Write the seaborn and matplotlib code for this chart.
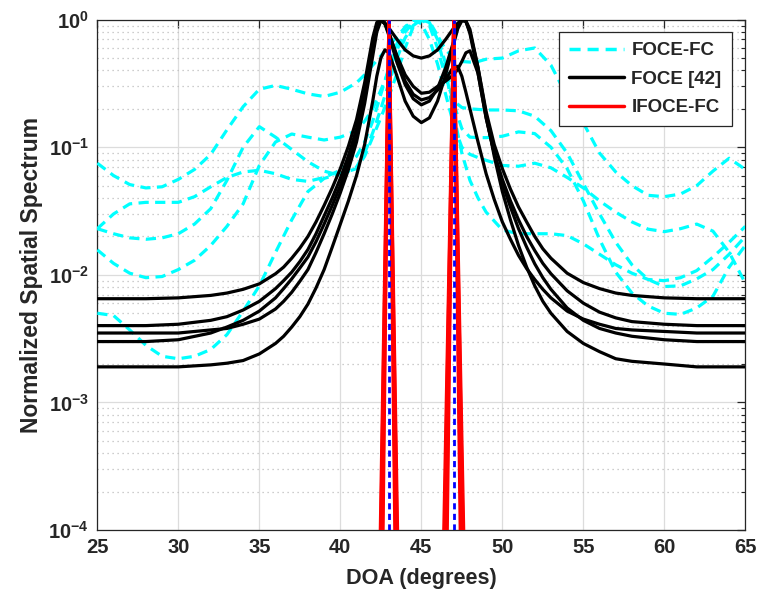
import matplotlib
matplotlib.use("Agg")
import matplotlib.pyplot as plt
import seaborn as sns
from matplotlib.lines import Line2D
from matplotlib.ticker import LogLocator, NullFormatter, FixedLocator

# ---------------- data ----------------
# FOCE-FC (cyan dashed) grid
doa_fc = [25, 26, 27, 28, 29, 30, 31, 32, 33, 34, 35, 36, 37, 38, 39, 40, 41,
          41.5, 42, 42.5, 43, 43.5, 44, 44.5, 45, 45.5, 46, 46.5, 47, 47.5, 48, 48.5, 49,
          50, 51, 52, 53, 54, 55, 56, 57, 58, 59, 60, 61, 62, 63, 64, 65]

foce_fc_1 = [0.075, 0.060, 0.051, 0.048, 0.049, 0.056, 0.067, 0.088, 0.137, 0.208, 0.285, 0.305, 0.285, 0.262, 0.25, 0.27, 0.32,
             0.37, 0.44, 0.52, 0.62, 0.74, 0.87, 0.97, 1.0, 0.92, 0.75, 0.58, 0.5, 0.47, 0.465, 0.47, 0.49,
             0.5, 0.57, 0.6, 0.44, 0.25, 0.155, 0.09, 0.064, 0.05, 0.042, 0.041, 0.043, 0.05, 0.065, 0.082, 0.067]
foce_fc_2 = [0.023, 0.030, 0.036, 0.037, 0.037, 0.037, 0.041, 0.049, 0.058, 0.064, 0.066, 0.062, 0.056, 0.054, 0.058, 0.066, 0.085,
             0.11, 0.16, 0.26, 0.42, 0.65, 0.88, 1.0, 0.93, 0.7, 0.45, 0.26, 0.15, 0.1, 0.088, 0.083, 0.079,
             0.072, 0.071, 0.075, 0.069, 0.058, 0.048, 0.038, 0.031, 0.026, 0.0228, 0.0218, 0.023, 0.025, 0.022, 0.015, 0.0086]
foce_fc_3 = [0.023, 0.021, 0.0195, 0.019, 0.0195, 0.021, 0.025, 0.033, 0.055, 0.1, 0.145, 0.12, 0.096, 0.077, 0.065, 0.06, 0.07,
             0.09, 0.13, 0.2, 0.32, 0.5, 0.72, 0.9, 1.0, 0.95, 0.7, 0.4, 0.18, 0.09, 0.055, 0.04, 0.031,
             0.0225, 0.021, 0.021, 0.021, 0.0203, 0.0175, 0.0145, 0.012, 0.0103, 0.0092, 0.009, 0.0095, 0.0108, 0.0138, 0.018, 0.024]
foce_fc_4 = [0.0157, 0.0123, 0.0103, 0.0095, 0.0097, 0.011, 0.013, 0.017, 0.024, 0.036, 0.072, 0.11, 0.127, 0.12, 0.114, 0.12, 0.135,
             0.16, 0.2, 0.28, 0.4, 0.58, 0.8, 0.95, 1.0, 0.9, 0.6, 0.35, 0.23, 0.205, 0.2, 0.198, 0.196,
             0.196, 0.193, 0.175, 0.135, 0.09, 0.052, 0.03, 0.018, 0.012, 0.0092, 0.0081, 0.0082, 0.0093, 0.011, 0.0145, 0.02]
foce_fc_5 = [0.005, 0.0048, 0.0037, 0.0028, 0.0023, 0.0022, 0.0023, 0.0026, 0.0034, 0.0052, 0.0082, 0.015, 0.027, 0.045, 0.057, 0.062, 0.068,
             0.085, 0.12, 0.17, 0.25, 0.38, 0.6, 0.88, 1.0, 0.97, 0.75, 0.45, 0.22, 0.14, 0.12, 0.119, 0.119,
             0.122, 0.132, 0.128, 0.1, 0.068, 0.038, 0.019, 0.0105, 0.0072, 0.0057, 0.005, 0.0049, 0.0055, 0.0068, 0.0115, 0.017]

# FOCE [42] (black solid) grid
doa_foce = [25, 28, 30, 32, 33, 34, 35, 36, 36.5, 37, 37.5, 38, 38.5, 39, 39.5, 40, 40.5, 41, 41.5, 42,
            42.25, 42.5, 42.75, 43, 43.5, 44, 44.5, 45, 45.5, 46, 46.5, 47, 47.25, 47.5, 47.75, 48,
            48.5, 49, 49.5, 50, 50.5, 51, 51.5, 52, 52.5, 53, 54, 55, 56, 57, 58, 60, 62, 65]

foce_1 = [0.0065, 0.0065, 0.0066, 0.0069, 0.0072, 0.0077, 0.0085, 0.0102, 0.0115, 0.0135, 0.0162, 0.020, 0.026, 0.035, 0.048, 0.068, 0.102, 0.165, 0.32, 0.72,
          0.95, 0.99, 0.93, 0.86, 0.7, 0.58, 0.52, 0.50, 0.52, 0.58, 0.7, 0.86, 0.94, 0.99, 0.97, 0.8,
          0.42, 0.19, 0.105, 0.068, 0.047, 0.034, 0.026, 0.02, 0.016, 0.0135, 0.0103, 0.0087, 0.0078, 0.0072, 0.0069, 0.0066, 0.0065, 0.0065]
foce_2 = [0.0040, 0.0040, 0.0041, 0.0044, 0.0047, 0.0053, 0.0062, 0.0078, 0.009, 0.0105, 0.0127, 0.0158, 0.021, 0.029, 0.04, 0.057, 0.086, 0.14, 0.27, 0.62,
          0.88, 1.0, 0.93, 0.78, 0.52, 0.37, 0.30, 0.265, 0.27, 0.3, 0.33, 0.37, 0.41, 0.47, 0.55, 0.57,
          0.38, 0.17, 0.09, 0.056, 0.038, 0.027, 0.02, 0.0155, 0.0123, 0.0102, 0.0075, 0.006, 0.0051, 0.0046, 0.0043, 0.0041, 0.0040, 0.0040]
foce_3 = [0.0035, 0.0035, 0.0035, 0.0037, 0.0038, 0.0041, 0.0045, 0.0054, 0.0062, 0.0073, 0.0089, 0.011, 0.015, 0.021, 0.03, 0.044, 0.067, 0.11, 0.22, 0.52,
          0.8, 0.98, 0.95, 0.8, 0.5, 0.33, 0.26, 0.235, 0.245, 0.28, 0.34, 0.43, 0.43, 0.36, 0.27, 0.2,
          0.11, 0.062, 0.039, 0.026, 0.019, 0.0142, 0.0112, 0.0092, 0.0077, 0.0066, 0.0052, 0.0045, 0.0041, 0.0038, 0.0037, 0.0036, 0.0035, 0.0035]
foce_4 = [0.0030, 0.0030, 0.0031, 0.0035, 0.0039, 0.0044, 0.0052, 0.0066, 0.0078, 0.0093, 0.0113, 0.0138, 0.0182, 0.025, 0.035, 0.05, 0.076, 0.125, 0.25, 0.58,
          0.85, 1.0, 0.93, 0.75, 0.46, 0.31, 0.24, 0.215, 0.23, 0.29, 0.42, 0.68, 0.88, 0.99, 0.97, 0.78,
          0.38, 0.17, 0.09, 0.052, 0.034, 0.023, 0.0165, 0.0122, 0.0095, 0.0077, 0.0055, 0.0044, 0.0038, 0.0035, 0.0033, 0.0031, 0.0030, 0.0030]
foce_5 = [0.0019, 0.0019, 0.0019, 0.00197, 0.00203, 0.00213, 0.0024, 0.0029, 0.0033, 0.0039, 0.0047, 0.0059, 0.0079, 0.011, 0.0165, 0.025, 0.038, 0.06, 0.105, 0.23,
          0.36, 0.5, 0.58, 0.55, 0.36, 0.23, 0.175, 0.156, 0.17, 0.23, 0.37, 0.65, 0.85, 0.98, 0.98, 0.84,
          0.42, 0.18, 0.085, 0.045, 0.027, 0.017, 0.0115, 0.0082, 0.0062, 0.005, 0.0036, 0.0029, 0.0025, 0.0022, 0.0021, 0.0020, 0.0019, 0.0019]

# IFOCE-FC (red) grid
doa_ifoce = [42.0, 43.0, 44.0, 46.0, 47.0, 48.0]
ifoce_1 = [1e-11, 1.0, 1e-11, 1e-10, 1.0, 1e-10]
ifoce_2 = [1e-10, 1.0, 1e-10, 1e-9, 1.0, 1e-9]
ifoce_3 = [1e-9, 1.0, 1e-9, 1e-8, 1.0, 1e-8]
ifoce_4 = [1e-8, 1.0, 1e-8, 1e-7, 1.0, 1e-7]
ifoce_5 = [3e-8, 1.0, 3e-8, 3e-7, 1.0, 3e-7]

true_doa = [43, 47]

y_ticks = [1e-4, 1e-3, 1e-2, 1e-1, 1]
y_tick_labels = [r"$\mathbf{10^{-4}}$", r"$\mathbf{10^{-3}}$", r"$\mathbf{10^{-2}}$",
                 r"$\mathbf{10^{-1}}$", r"$\mathbf{10^{0}}$"]
x_ticks = [25, 30, 35, 40, 45, 50, 55, 60, 65]

# ---------------- style ----------------
sns.set_style("white")
plt.rcParams["font.family"] = ["Liberation Sans", "DejaVu Sans"]
plt.rcParams["font.weight"] = "bold"
plt.rcParams["mathtext.fontset"] = "custom"
plt.rcParams["mathtext.rm"] = "Liberation Sans:bold"
plt.rcParams["mathtext.bf"] = "Liberation Sans:bold"
plt.rcParams["mathtext.it"] = "Liberation Sans:bold:italic"
plt.rcParams["mathtext.default"] = "bf"

fig = plt.figure(figsize=(7.58, 5.96), dpi=100)
ax = fig.add_axes([0.1284, 0.1107, 0.8549, 0.8563])
ax.set_yscale("log")

cyan = "#00FFFF"
for vals in [foce_fc_1, foce_fc_2, foce_fc_3, foce_fc_4, foce_fc_5]:
    sns.lineplot(x=doa_fc, y=vals, ax=ax, color=cyan, lw=2.3,
                 linestyle=(0, (3.2, 2.0)), estimator=None, sort=False, zorder=3)

for vals in [foce_1, foce_2, foce_3, foce_4, foce_5]:
    sns.lineplot(x=doa_foce, y=vals, ax=ax, color="black", lw=2.3,
                 estimator=None, sort=False, zorder=4)

for vals in [ifoce_1, ifoce_2, ifoce_3, ifoce_4, ifoce_5]:
    sns.lineplot(x=doa_ifoce, y=vals, ax=ax, color="#FF0000", lw=2.3,
                 estimator=None, sort=False, zorder=5)

for d in true_doa:
    ax.axvline(d, color="#0000FF", lw=2.0, linestyle=(0, (2.2, 1.6)), zorder=6)

ax.set_xlim(25, 65)
ax.set_ylim(1e-4, 1)
ax.set_xticks(x_ticks)
ax.set_xticklabels([str(v) for v in x_ticks])
ax.yaxis.set_major_locator(FixedLocator(y_ticks))
ax.set_yticklabels(y_tick_labels)
ax.yaxis.set_minor_locator(LogLocator(base=10, subs=range(2, 10), numticks=20))
ax.yaxis.set_minor_formatter(NullFormatter())

ax.grid(True, which="major", color="#dcdcdc", lw=0.9, linestyle="-")
ax.yaxis.grid(True, which="minor", color="#bdbdbd", lw=0.9, linestyle=(0, (1, 3)))
ax.set_axisbelow(True)

ax.tick_params(which="both", direction="in", top=True, right=True, colors="#262626")
ax.tick_params(which="major", length=6, width=0.9, labelsize=14.5, pad=6)
ax.tick_params(which="minor", length=3, width=0.8)
for lab in ax.get_xticklabels() + ax.get_yticklabels():
    lab.set_fontweight("bold")
for sp in ax.spines.values():
    sp.set_color("#262626")
    sp.set_linewidth(0.9)

ax.set_xlabel("DOA (degrees)", fontsize=15.6, fontweight="bold", color="#262626", labelpad=8)
ax.set_ylabel("Normalized Spatial Spectrum", fontsize=16.5, fontweight="bold", color="#262626", labelpad=4)

handles = [
    Line2D([], [], color=cyan, lw=2.5, linestyle=(0, (3.2, 2.0))),
    Line2D([], [], color="black", lw=2.5),
    Line2D([], [], color="#FF0000", lw=2.5),
]
leg = ax.legend(handles, ["FOCE-FC", "FOCE [42]", "IFOCE-FC"], loc="upper right",
                bbox_to_anchor=(0.979, 0.976), borderaxespad=0.0, fancybox=False,
                framealpha=1, edgecolor="#262626", handlelength=2.9, handletextpad=0.4,
                labelspacing=0.6, borderpad=0.55, prop={"weight": "bold", "size": 13.5})
leg.get_frame().set_linewidth(0.9)
leg.set_zorder(10)

fig.savefig("out.png", dpi=100)
